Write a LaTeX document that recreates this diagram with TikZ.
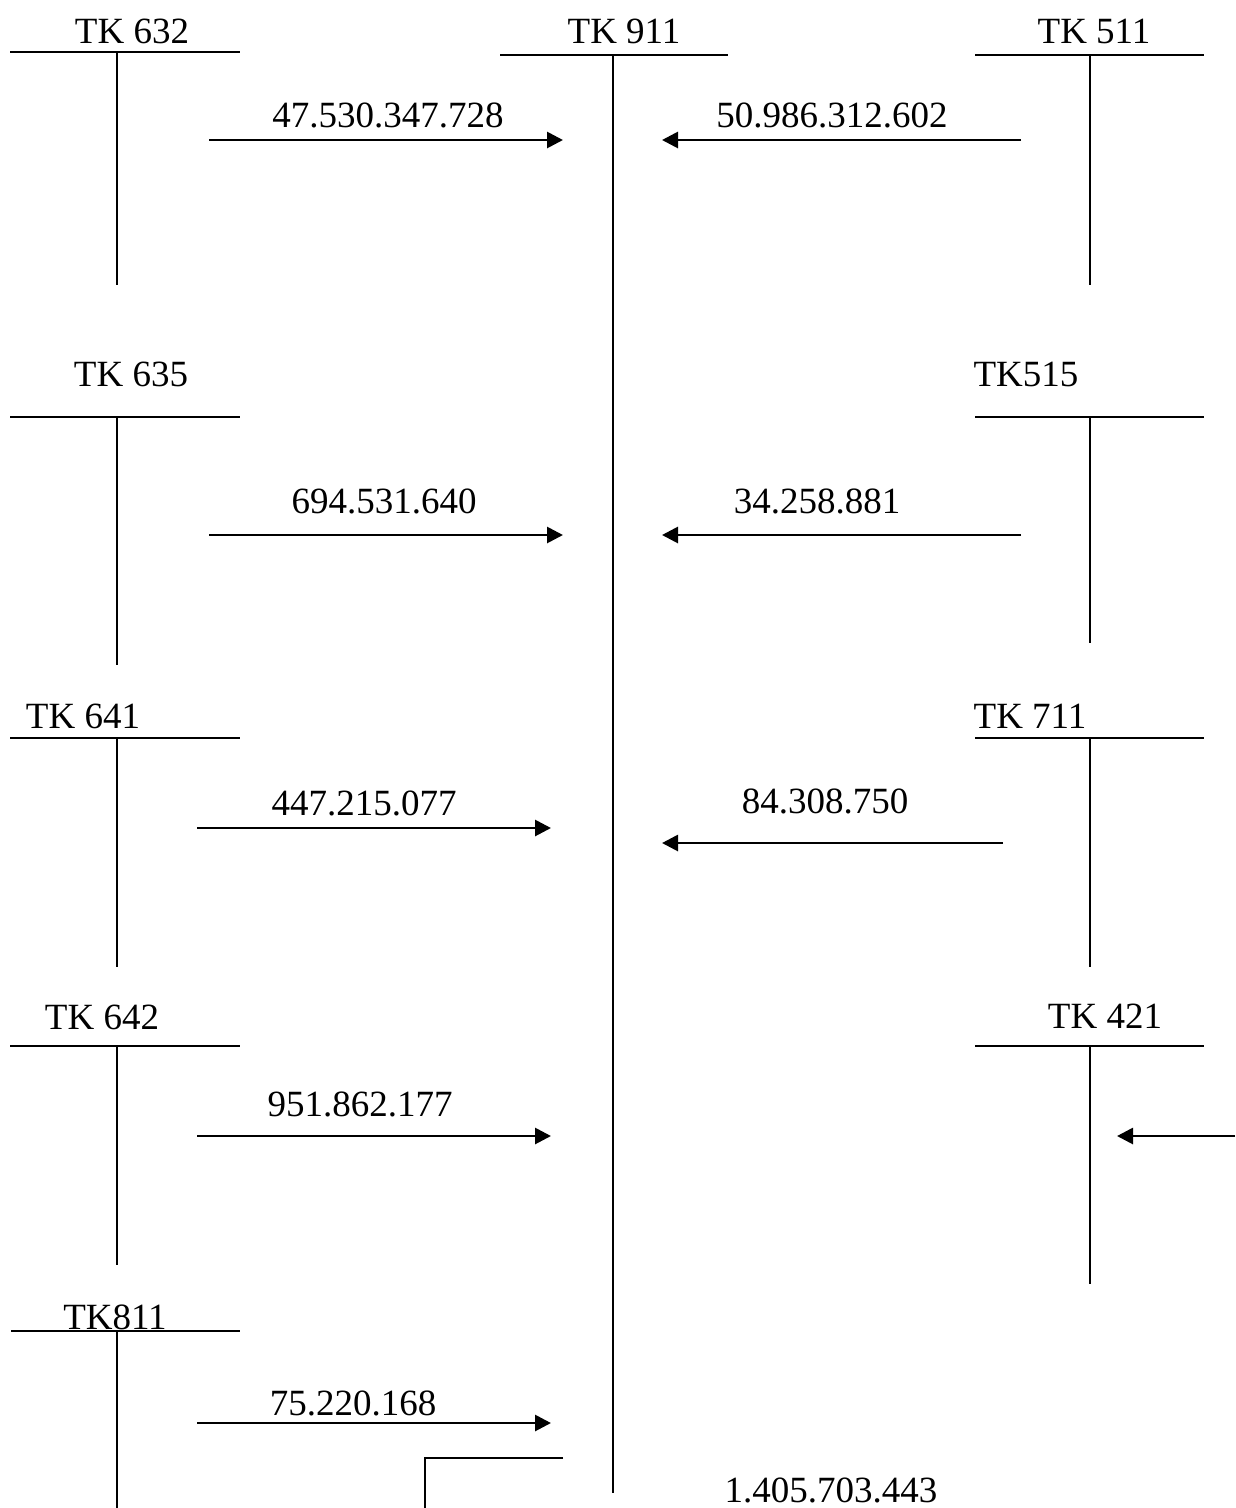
\documentclass[tikz,border=0pt]{standalone}
\usepackage{fontspec}
\setmainfont{Liberation Serif}
\usetikzlibrary{arrows.meta}
\begin{document}
\begin{tikzpicture}[x=1pt,y=-1pt,
  tline/.style={line width=2pt},
  flow/.style={line width=2.8pt,-{Triangle[length=16pt,width=16pt]}},
  lbl/.style={anchor=base,inner sep=0pt,font=\fontsize{37}{44}\selectfont}]
\useasboundingbox (0,0) rectangle (1235,1508);
% ---------- TK 632
\node[lbl] (t632) at (132,43) {TK 632};
\coordinate (a632l) at (10,52); \coordinate (a632r) at (240,52);
\coordinate (a632t) at (117,52); \coordinate (a632b) at (117,285);
\draw[tline] (a632l) -- (a632r); \draw[tline] (a632t) -- (a632b);
% ---------- TK 911
\node[lbl] (t911) at (624,43) {TK 911};
\coordinate (a911l) at (500,55); \coordinate (a911r) at (728,55);
\coordinate (a911t) at (613,55); \coordinate (a911b) at (613,1493);
\draw[tline] (a911l) -- (a911r); \draw[tline] (a911t) -- (a911b);
% ---------- TK 511
\node[lbl] (t511) at (1094,43) {TK 511};
\coordinate (a511l) at (975,55); \coordinate (a511r) at (1204,55);
\coordinate (a511t) at (1090,55); \coordinate (a511b) at (1090,285);
\draw[tline] (a511l) -- (a511r); \draw[tline] (a511t) -- (a511b);
% ---------- TK 635
\node[lbl] (t635) at (131,386) {TK 635};
\coordinate (a635l) at (10,417); \coordinate (a635r) at (240,417);
\coordinate (a635t) at (117,417); \coordinate (a635b) at (117,665);
\draw[tline] (a635l) -- (a635r); \draw[tline] (a635t) -- (a635b);
% ---------- TK515
\node[lbl] (t515) at (1026,386) {TK515};
\coordinate (a515l) at (975,417); \coordinate (a515r) at (1204,417);
\coordinate (a515t) at (1090,417); \coordinate (a515b) at (1090,643);
\draw[tline] (a515l) -- (a515r); \draw[tline] (a515t) -- (a515b);
% ---------- TK 641
\node[lbl] (t641) at (83,728) {TK 641};
\coordinate (a641l) at (10,738); \coordinate (a641r) at (240,738);
\coordinate (a641t) at (117,738); \coordinate (a641b) at (117,967);
\draw[tline] (a641l) -- (a641r); \draw[tline] (a641t) -- (a641b);
% ---------- TK 711
\node[lbl] (t711) at (1030,728) {TK 711};
\coordinate (a711l) at (975,738); \coordinate (a711r) at (1204,738);
\coordinate (a711t) at (1090,738); \coordinate (a711b) at (1090,967);
\draw[tline] (a711l) -- (a711r); \draw[tline] (a711t) -- (a711b);
% ---------- TK 642
\node[lbl] (t642) at (102,1029) {TK 642};
\coordinate (a642l) at (10,1046); \coordinate (a642r) at (240,1046);
\coordinate (a642t) at (117,1046); \coordinate (a642b) at (117,1265);
\draw[tline] (a642l) -- (a642r); \draw[tline] (a642t) -- (a642b);
% ---------- TK 421
\node[lbl] (t421) at (1105,1028) {TK 421};
\coordinate (a421l) at (975,1046); \coordinate (a421r) at (1204,1046);
\coordinate (a421t) at (1090,1046); \coordinate (a421b) at (1090,1284);
\draw[tline] (a421l) -- (a421r); \draw[tline] (a421t) -- (a421b);
% ---------- TK811
\node[lbl] (t811) at (115,1329) {TK811};
\coordinate (a811l) at (11,1331); \coordinate (a811r) at (240,1331);
\coordinate (a811t) at (117,1331); \coordinate (a811b) at (117,1508);
\draw[tline] (a811l) -- (a811r); \draw[tline] (a811t) -- (a811b);
% ---------- flows
\coordinate (f1s) at (209,140); \coordinate (f1e) at (563,140);
\draw[flow] (f1s) -- (f1e);
\node[lbl] (v1) at (388,127) {47.530.347.728};
\coordinate (f2s) at (1021,140); \coordinate (f2e) at (662,140);
\draw[flow] (f2s) -- (f2e);
\node[lbl] (v2) at (832,127) {50.986.312.602};
\coordinate (f3s) at (209,535); \coordinate (f3e) at (563,535);
\draw[flow] (f3s) -- (f3e);
\node[lbl] (v3) at (384,513) {694.531.640};
\coordinate (f4s) at (1021,535); \coordinate (f4e) at (662,535);
\draw[flow] (f4s) -- (f4e);
\node[lbl] (v4) at (817,513) {34.258.881};
\coordinate (f5s) at (197,828); \coordinate (f5e) at (551,828);
\draw[flow] (f5s) -- (f5e);
\node[lbl] (v5) at (364,815) {447.215.077};
\coordinate (f6s) at (1003,843); \coordinate (f6e) at (662,843);
\draw[flow] (f6s) -- (f6e);
\node[lbl] (v6) at (825,813) {84.308.750};
\coordinate (f7s) at (197,1136); \coordinate (f7e) at (551,1136);
\draw[flow] (f7s) -- (f7e);
\node[lbl] (v7) at (360,1116) {951.862.177};
\coordinate (f8s) at (1235,1136); \coordinate (f8e) at (1117,1136);
\draw[flow] (f8s) -- (f8e);
\coordinate (f9s) at (197,1423); \coordinate (f9e) at (551,1423);
\draw[flow] (f9s) -- (f9e);
\node[lbl] (v9) at (353,1415) {75.220.168};
% ---------- bracket and total
\coordinate (br1) at (563,1458); \coordinate (br2) at (425,1458); \coordinate (br3) at (425,1508);
\draw[tline] (br1) -- (br2) -- (br3);
\node[lbl] (tot) at (831,1502) {1.405.703.443};
\end{tikzpicture}
\end{document}
